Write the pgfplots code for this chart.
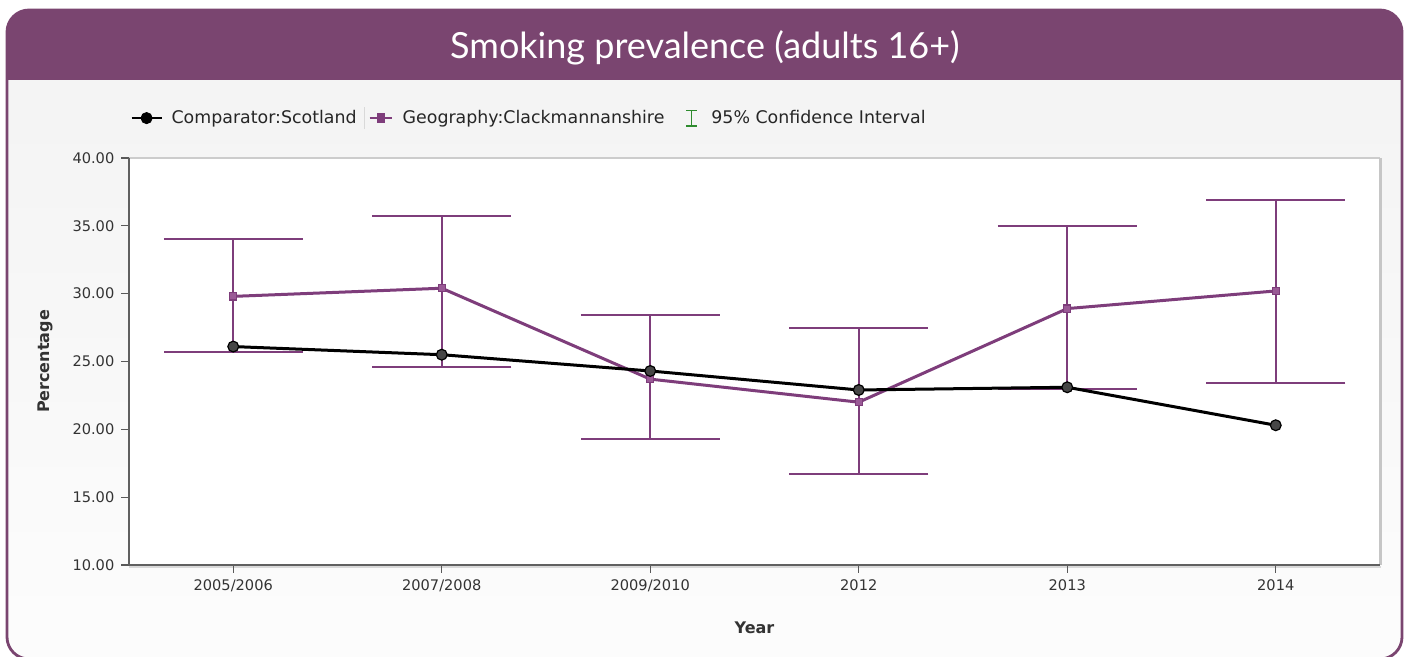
\documentclass[border=0pt]{standalone}
\usepackage{fontspec}
\setmainfont{DejaVu Sans}
\newfontfamily\titlefont{Lato}
\usepackage{pgfplots}
\pgfplotsset{compat=1.18}
\usepackage{pgfplotstable}

\definecolor{framepurple}{HTML}{7A4570}
\definecolor{series}{HTML}{7E3D7B}
\definecolor{marksq}{HTML}{9A5A96}
\definecolor{cigreen}{HTML}{2E8B2E}
\definecolor{txt}{HTML}{333333}

% Comparator: Scotland
\pgfplotstableread{
x y
0 26.1
1 25.5
2 24.3
3 22.9
4 23.1
5 20.3
}\scotland

% Geography: Clackmannanshire, with 95% CI
\pgfplotstableread{
x y lo hi
0 29.8 25.7 34.0
1 30.4 24.6 35.7
2 23.7 19.3 28.4
3 22.0 16.7 27.5
4 28.9 23.0 35.0
5 30.2 23.4 36.9
}\clack

\begin{document}
\begin{tikzpicture}
\useasboundingbox (0,0) rectangle (703.5pt,328.5pt);
\fill[white] (0,0) rectangle (703.5pt,328.5pt);

% frame and title bar
\begin{scope}
  \clip[rounded corners=11pt] (3.5pt,-1pt) rectangle (701pt,323.5pt);
  \shade[top color=gray!9, bottom color=gray!2] (0,0) rectangle (703.5pt,288.5pt);
  \fill[framepurple] (0,288.5pt) rectangle (703.5pt,330pt);
\end{scope}
\draw[framepurple, line width=1.4pt, rounded corners=11pt] (3.5pt,-1pt) rectangle (701pt,323.5pt);
\node[text=white, font=\titlefont\fontsize{18}{22}\selectfont] at (352.5pt,304.5pt) {Smoking prevalence (adults 16+)};

% plot area
\fill[white] (64.5pt,46pt) rectangle (690pt,249.5pt);
\draw[gray!40, line width=0.6pt] (64.5pt,249.5pt) -- (690pt,249.5pt);
\draw[gray!45, line width=1.5pt] (690pt,249.5pt) -- (690pt,46pt);
\draw[gray!30, line width=0.8pt] (64.5pt,45pt) -- (690.5pt,45pt);

\begin{axis}[
  at={(64.5pt,46pt)}, anchor=south west,
  width=625.5pt, height=203.5pt, scale only axis,
  xmin=-0.5, xmax=5.5, ymin=10, ymax=40,
  xtick={0,...,5},
  xticklabels={2005/2006,2007/2008,2009/2010,2012,2013,2014},
  ytick={10,15,...,40},
  yticklabel style={/pgf/number format/.cd, fixed, fixed zerofill, precision=2},
  /pgf/number format/assume math mode=true,
  axis x line*=bottom, axis y line*=left,
  x axis line style={draw=gray!75!black, line width=1pt},
  y axis line style={draw=gray!75!black, line width=0.6pt},
  tick style={draw=gray!70!black, line width=0.6pt},
  tick align=outside, major tick length=3.8pt,
  minor tick num=0,
  tick label style={font=\fontsize{7.3}{8}\selectfont, text=txt},
  xlabel={Year}, ylabel={Percentage},
  label style={font=\bfseries\fontsize{8}{9}\selectfont, text=txt},
  xlabel style={at={(axis description cs:0.5,-0.155)}, anchor=center},
  ylabel style={at={(axis description cs:-0.0671,0.5)}, anchor=center},
  legend style={at={(axis description cs:0.0008,1.098)}, anchor=west,
    draw=none, fill=none, inner sep=0pt, column sep=0pt,
    font=\fontsize{8.7}{10}\selectfont, text=black!85,
    nodes={inner sep=0pt}},
  legend columns=-1, legend cell align=left,
]
\addplot[forget plot, series, line width=1.5pt, mark=square*, mark size=1.8pt,
  mark options={fill=marksq, draw=series, line width=0.6pt},
  error bars/.cd, y dir=both, y explicit,
  error bar style={series, line width=1pt},
  error mark=-,
  error mark options={series, line width=1pt, mark size=34.75pt, rotate=90}]
  table[x=x, y=y, y error plus expr=\thisrow{hi}-\thisrow{y},
        y error minus expr=\thisrow{y}-\thisrow{lo}] {\clack};
\addplot[forget plot, black, line width=1.5pt, mark=*, mark size=2.7pt,
  mark options={fill=gray!55!black, draw=black, line width=0.6pt}]
  table[x=x, y=y] {\scotland};

\addlegendimage{legend image code/.code={
  \path[draw=none, fill=none] (0pt,-4pt) rectangle (20pt,4pt);
  \draw[black, line width=1.2pt] (0pt,0pt) -- (15pt,0pt);
  \fill[black] (7.5pt,0pt) circle (2.8pt);}}
\addlegendentry{Comparator:Scotland}
\addlegendimage{legend image code/.code={
  \path[draw=none, fill=none] (0pt,-4pt) rectangle (23pt,4pt);
  \draw[gray!30, line width=0.5pt] (4pt,-5.5pt) -- (4pt,5.5pt);
  \draw[series, line width=1.2pt] (6.5pt,0pt) -- (17.5pt,0pt);
  \fill[series] (10.2pt,-2.3pt) rectangle (13.8pt,2.3pt);}}
\addlegendentry{Geography:Clackmannanshire}
\addlegendimage{legend image code/.code={
  \path[draw=none, fill=none] (0pt,-4pt) rectangle (23.5pt,4pt);
  \draw[cigreen, line width=0.9pt] (13.5pt,-3.8pt) -- (13.5pt,3.8pt)
    (10.8pt,-3.8pt) -- (16.2pt,-3.8pt) (10.8pt,3.8pt) -- (16.2pt,3.8pt);}}
\addlegendentry{95\% Confidence Interval}
\end{axis}
\end{tikzpicture}
\end{document}
